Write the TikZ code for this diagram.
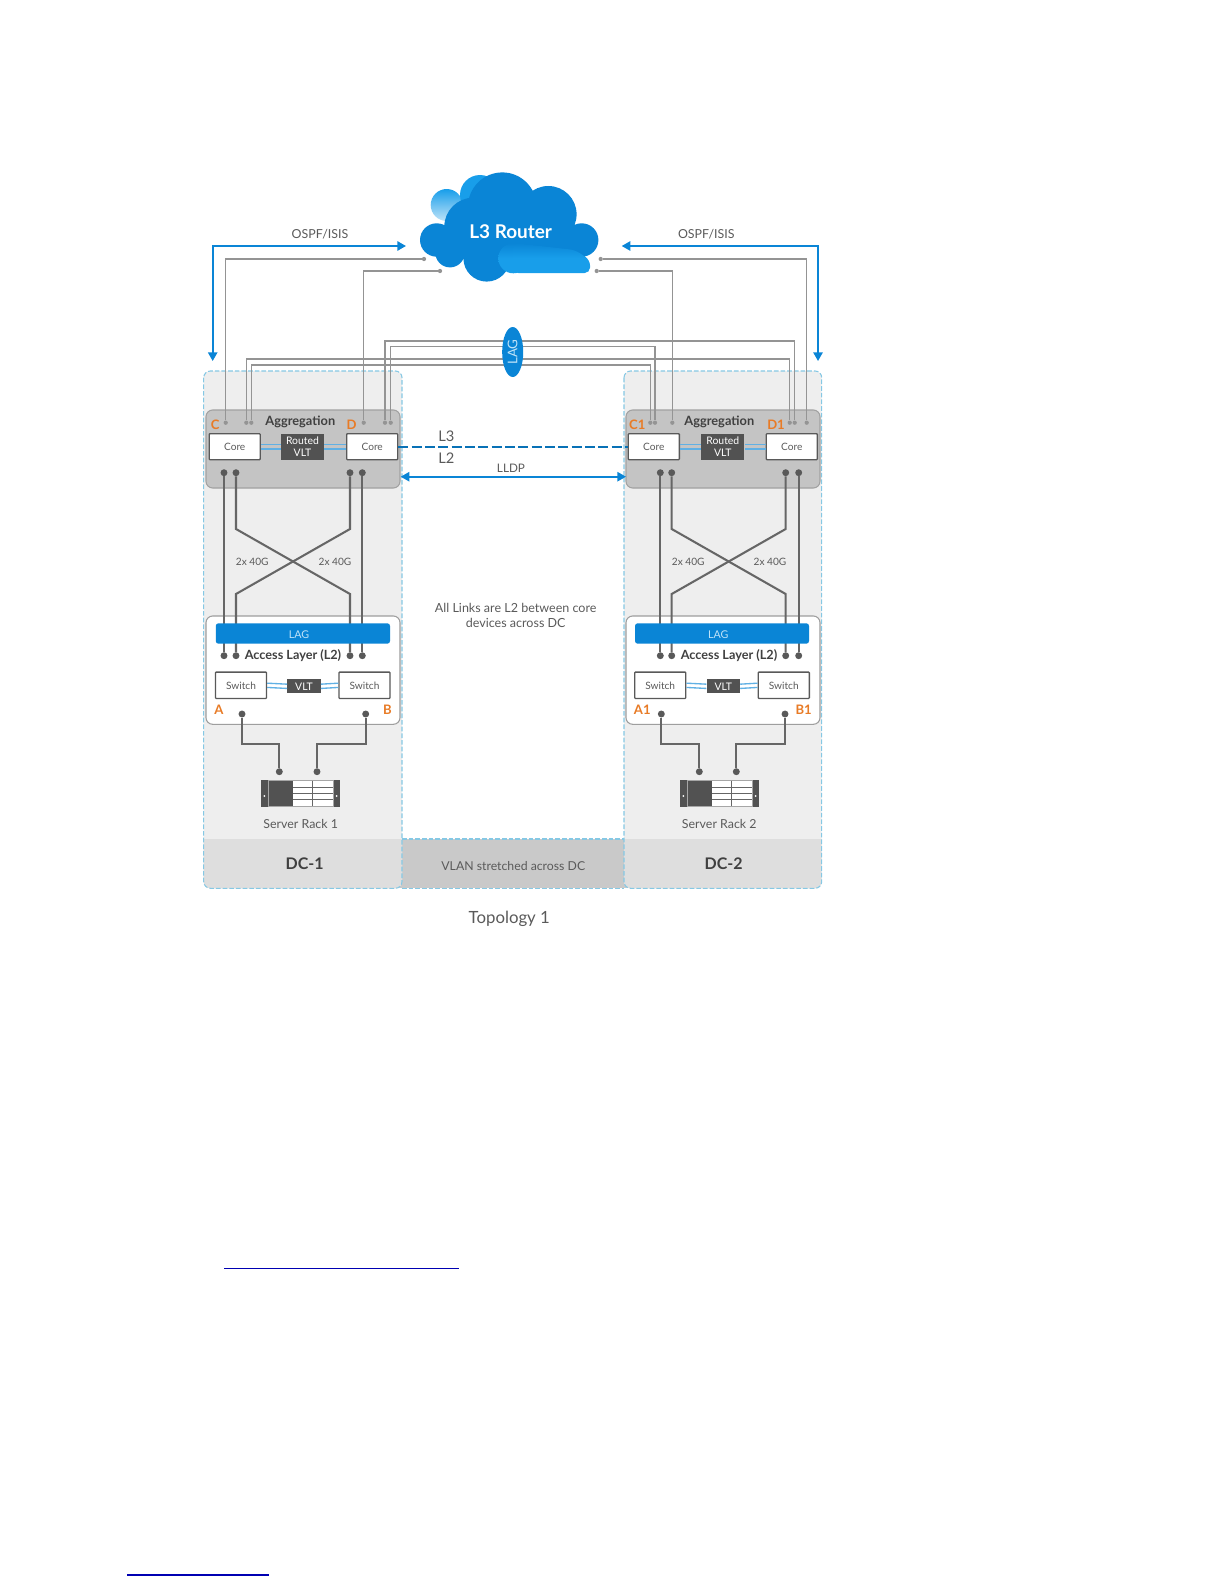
\documentclass[tikz,border=0pt]{standalone}
\usepackage{fontspec}
\setmainfont{Lato}
\usetikzlibrary{arrows.meta,shapes.geometric}
\definecolor{dellblue}{HTML}{0A85D6}
\definecolor{dellsky}{HTML}{189EEA}
\definecolor{dellpale}{HTML}{BFE3F8}
\definecolor{dashblue}{HTML}{86C8E4}
\definecolor{txtgrey}{HTML}{5A5A5A}
\definecolor{dellorange}{HTML}{E87B26}
\tikzset{
  panel/.style      = {fill=black!6.5, rounded corners=5pt},
  panel edge/.style = {draw=dashblue, line width=0.8pt, dash pattern=on 3.5pt off 1.5pt},
  band/.style       = {fill=black!13},
  midband/.style    = {fill=black!21},
  aggbox/.style     = {fill=black!23, draw=black!37, line width=0.8pt, rounded corners=5pt},
  accbox/.style     = {fill=white, draw=black!38, line width=0.8pt, rounded corners=5pt},
  corebox/.style    = {rectangle, draw=black!65, fill=white, line width=1pt, rounded corners=0.6pt,
                       inner sep=0pt, minimum width=38.3pt, minimum height=19.5pt,
                       font=\fontsize{7.6}{8}\selectfont, text=txtgrey, text depth=0pt},
  darkbox/.style    = {rectangle, fill=black!68, inner sep=0pt, text=white, align=center,
                       font=\fontsize{7.8}{8.6}\selectfont},
  lagbar/.style     = {rectangle, fill=dellblue, rounded corners=2pt, inner sep=0pt,
                       minimum height=15.3pt},
  lagoval/.style    = {ellipse, fill=dellblue, inner sep=0pt, minimum width=37.5pt,
                       minimum height=15.8pt, rotate=90, text=dellpale,
                       font=\fontsize{10}{11}\selectfont},
  bigdot/.style     = {circle, fill=black!65, inner sep=0pt, minimum size=5.2pt},
  tinydot/.style    = {circle, fill=black!42, inner sep=0pt, minimum size=3.2pt},
  trunk/.style      = {line width=1.55pt, draw=black!60},
  thinlink/.style   = {line width=0.95pt, draw=black!42},
  vltlink/.style    = {line width=1pt, draw=dellblue!65},
  bluearrow/.style  = {line width=1.3pt, draw=dellblue,
                       {Stealth[length=6.5pt,width=7pt,inset=0pt]}-{Stealth[length=6.5pt,width=7pt,inset=0pt]}},
  greytxt/.style    = {text=txtgrey, font=\fontsize{9.3}{11}\selectfont, inner sep=0pt},
  smalltxt/.style   = {text=txtgrey, font=\fontsize{7.6}{8}\selectfont, inner sep=0pt},
  headtxt/.style    = {text=black!75, font=\bfseries\fontsize{9.6}{10}\selectfont, inner sep=0pt},
  tag/.style        = {text=dellorange, font=\bfseries\fontsize{9.8}{10}\selectfont, inner sep=0pt},
  rackbox/.style    = {rectangle, fill=black!35, inner sep=0pt, minimum width=59.2pt, minimum height=20.5pt},
  rack detail/.pic  = {
    \fill[black!68] (-39.5,-13.5) rectangle (-33,13.5);
    \fill[black!68] (33,-13.5) rectangle (39.5,13.5);
    \fill[white] (-31.5,-12.7) rectangle (32,12.2);
    \fill[black!68] (-31.5,-12.7) rectangle (-8,12.2);
    \draw[black!60,line width=0.5pt] (-8,-6.2) -- (32,-6.2) (-8,-0.2) -- (32,-0.2)
         (-8,5.8) -- (32,5.8) (11.8,-12.7) -- (11.8,12.2);
    \fill[white] (-36.2,2.5) circle (1) (36.2,2.5) circle (1);
  },
}

\begin{document}
\begin{tikzpicture}[x=0.75pt,y=-0.75pt]
  \useasboundingbox (0,0) rectangle (1224,1584);

  % data centre panels and the band along the bottom
  \fill[midband] (395,839) rectangle (630,888.3);
  \fill[panel] (203.7,371) rectangle (402,888.3);
  \fill[panel] (624,371) rectangle (821.7,888.3);
  \fill[band] (203.7,839) [rounded corners=5pt] -- (203.7,888.3) -- (402,888.3) [sharp corners] -- (402,839) -- cycle;
  \fill[band] (624,839) [rounded corners=5pt] -- (624,888.3) -- (821.7,888.3) [sharp corners] -- (821.7,839) -- cycle;
  \draw[panel edge,rounded corners=5pt] (203.7,371) rectangle (402,888.3);
  \draw[panel edge,rounded corners=5pt] (624,371) rectangle (821.7,888.3);
  \draw[panel edge] (402,839) -- (624,839) (402,888.3) -- (624,888.3);

  % aggregation and access blocks
  \draw[aggbox] (206,410) rectangle (400,488);
  \draw[aggbox] (626,410) rectangle (820,488);
  \draw[accbox] (206,616) rectangle (400,724.3);
  \draw[accbox] (626,616) rectangle (820,724.3);

  % the cloud
  \shade[top color=dellsky,bottom color=dellpale] (446.7,205) circle (16);
  \fill[dellsky] (480,195) circle (20);
  \fill[dellblue] (436.7,240) circle (16.7) (450,252.7) circle (14.7) (486.7,258.3) circle (23.3)
       (473.3,226.7) circle (29) (502.3,206.7) circle (34.3) (548.3,214.3) circle (28.3) (581.7,240) circle (16.7);
  \fill[dellblue] (440,225) rectangle (580,258);
  \fill[dellblue] (560,240) rectangle (585,262);
  \shade[top color=dellblue,bottom color=dellsky,middle color=dellsky] (513.3,258.3) circle (15);
  \shade[top color=dellblue,bottom color=dellsky,middle color=dellsky,rounded corners=4pt]
       (513,243) -- (575,250) -- (590,260) -- (590,273) -- (513,273) -- cycle;
  \node[text=white,font=\bfseries\fontsize{14.2}{16}\selectfont,inner sep=0pt] (router) at (510.7,231.7) {L3 Router};

  % dots on top of the aggregation blocks and at the cloud
  \node[tinydot] (portC) at (225.7,422.7) {};
  \node[tinydot] (lagCa) at (246.3,422.7) {};
  \node[tinydot] (lagCb) at (251.3,422.7) {};
  \node[tinydot] (portD) at (363.7,422.7) {};
  \node[tinydot] (lagDa) at (385,422.7) {};
  \node[tinydot] (lagDb) at (390.7,422.7) {};
  \node[tinydot] (lagEa) at (650.3,422.7) {};
  \node[tinydot] (lagEb) at (655,422.7) {};
  \node[tinydot] (portE) at (672.3,422.7) {};
  \node[tinydot] (lagFa) at (789.7,422.7) {};
  \node[tinydot] (lagFb) at (794.7,422.7) {};
  \node[tinydot] (portF) at (806.7,422.7) {};
  \node[tinydot] (cloudC) at (424,259) {};
  \node[tinydot] (cloudD) at (440,271) {};
  \node[tinydot] (cloudF) at (600.7,259) {};
  \node[tinydot] (cloudE) at (596.7,271) {};

  \draw[thinlink] (portC) |- (cloudC);
  \draw[thinlink] (portD) |- (cloudD);
  \draw[thinlink] (portF) |- (cloudF);
  \draw[thinlink] (portE) |- (cloudE);

  % four lines that run through the LAG oval
  \coordinate (laglineA) at (0,341);
  \coordinate (laglineB) at (0,346.7);
  \coordinate (laglineC) at (0,359);
  \coordinate (laglineD) at (0,365);
  \draw[thinlink] (lagDa) -- (lagDa |- laglineA) -| (lagFb);
  \draw[thinlink] (lagDb) -- (lagDb |- laglineB) -| (lagEb);
  \draw[thinlink] (lagCa) -- (lagCa |- laglineC) -| (lagFa);
  \draw[thinlink] (lagCb) -- (lagCb |- laglineD) -| (lagEa);
  \node[lagoval] (lagoval) at (512.7,352) {LAG};

  % blue arrows
  \coordinate (ospfAa) at (212.7,361);
  \coordinate (ospfAb) at (406,246);
  \coordinate (ospfBa) at (621.7,246);
  \coordinate (ospfBb) at (818,361);
  \draw[bluearrow] (ospfAa) |- (ospfAb);
  \draw[bluearrow] (ospfBa) -| (ospfBb);
  \node[greytxt] (ospfA) at (320,234.3) {OSPF/ISIS};
  \node[greytxt] (ospfB) at (706.3,234.3) {OSPF/ISIS};

  % core boxes
  \node[corebox] (coreC) at (234.7,446.7) {Core};
  \node[corebox] (coreD) at (372.2,446.7) {Core};
  \node[corebox] (coreE) at (653.8,446.7) {Core};
  \node[corebox] (coreF) at (791.8,446.7) {Core};
  \node[darkbox,minimum width=32.2pt,minimum height=19.2pt] (rvltA) at (302.5,446.7) {Routed\\VLT};
  \node[darkbox,minimum width=32.2pt,minimum height=19.2pt] (rvltB) at (722.8,446.7) {Routed\\VLT};
  \draw[vltlink] ([yshift=1.6pt]coreC.east) -- ([yshift=1.6pt]rvltA.west) ([yshift=-1.6pt]coreC.east) -- ([yshift=-1.6pt]rvltA.west);
  \draw[vltlink] ([yshift=1.6pt]coreD.west) -- ([yshift=1.6pt]rvltA.east) ([yshift=-1.6pt]coreD.west) -- ([yshift=-1.6pt]rvltA.east);
  \draw[vltlink] ([yshift=1.6pt]coreE.east) -- ([yshift=1.6pt]rvltB.west) ([yshift=-1.6pt]coreE.east) -- ([yshift=-1.6pt]rvltB.west);
  \draw[vltlink] ([yshift=1.6pt]coreF.west) -- ([yshift=1.6pt]rvltB.east) ([yshift=-1.6pt]coreF.west) -- ([yshift=-1.6pt]rvltB.east);
  \node[headtxt] (aggA) at (300.3,422) {Aggregation};
  \node[headtxt] (aggB) at (719.3,422) {Aggregation};
  \node[tag] (tagC) at (215.3,424.3) {C};
  \node[tag] (tagD) at (351.7,424.3) {D};
  \node[tag] (tagE) at (637.3,424.3) {C1};
  \node[tag] (tagF) at (776,424.3) {D1};

  % L3 and L2 between the data centres
  \draw[line width=1.3pt,draw=dellblue!85!black,dash pattern=on 7.5pt off 2.5pt] (coreD) -- (coreE);
  \coordinate (lldpA) at (400.7,476.7);
  \coordinate (lldpB) at (626,476.7);
  \draw[bluearrow] (lldpA) -- (lldpB);
  \node[greytxt,font=\fontsize{11}{12}\selectfont] (lblLthree) at (446.3,436.3) {L3};
  \node[greytxt,font=\fontsize{11}{12}\selectfont] (lblLtwo) at (446.3,458.3) {L2};
  \node[smalltxt,font=\fontsize{8.8}{10}\selectfont] (lldp) at (511,468.7) {LLDP};
  \node[smalltxt,font=\fontsize{9.4}{11.2}\selectfont,align=center] (note) at (515.7,615.3)
       {All Links are L2 between core\\devices across DC};

  % trunks down to the access layer
  \coordinate (xtop) at (0,529);
  \coordinate (xbot) at (0,594);
  \node[bigdot] (upCa) at (224,472.7) {};
  \node[bigdot] (upCb) at (236,472.7) {};
  \node[bigdot] (upDa) at (350,472.7) {};
  \node[bigdot] (upDb) at (362.3,472.7) {};
  \node[bigdot] (lowAa) at (224,655.7) {};
  \node[bigdot] (lowAb) at (236,655.7) {};
  \node[bigdot] (lowBa) at (350,655.7) {};
  \node[bigdot] (lowBb) at (362.3,655.7) {};
  \draw[trunk] (upCa) -- (lowAa);
  \draw[trunk] (upDb) -- (lowBb);
  \draw[trunk] (upCb) -- (upCb |- xtop) -- (lowBa |- xbot) -- (lowBa);
  \draw[trunk] (upDa) -- (upDa |- xtop) -- (lowAb |- xbot) -- (lowAb);

  \node[bigdot] (upEa) at (660.3,472.7) {};
  \node[bigdot] (upEb) at (671.7,472.7) {};
  \node[bigdot] (upFa) at (785.7,472.7) {};
  \node[bigdot] (upFb) at (798.7,472.7) {};
  \node[bigdot] (lowGa) at (660.3,655.7) {};
  \node[bigdot] (lowGb) at (671.7,655.7) {};
  \node[bigdot] (lowHa) at (785.7,655.7) {};
  \node[bigdot] (lowHb) at (798.7,655.7) {};
  \draw[trunk] (upEa) -- (lowGa);
  \draw[trunk] (upFb) -- (lowHb);
  \draw[trunk] (upEb) -- (upEb |- xtop) -- (lowHa |- xbot) -- (lowHa);
  \draw[trunk] (upFa) -- (upFa |- xtop) -- (lowGb |- xbot) -- (lowGb);

  \node[smalltxt] (speedA) at (252.3,562.3) {2x 40G};
  \node[smalltxt] (speedB) at (335,562.3) {2x 40G};
  \node[smalltxt] (speedC) at (688.3,562.3) {2x 40G};
  \node[smalltxt] (speedD) at (770,562.3) {2x 40G};

  % access layer contents
  \node[lagbar,minimum width=130.7pt] (lagbarA) at (302.9,633.5) {};
  \node[lagbar,minimum width=130.5pt] (lagbarB) at (722,633.5) {};
  \node[text=dellpale,font=\fontsize{8}{8}\selectfont,inner sep=0pt] (lagtxtA) at (299,635) {LAG};
  \node[text=dellpale,font=\fontsize{8}{8}\selectfont,inner sep=0pt] (lagtxtB) at (718.3,635) {LAG};
  \node[headtxt,font=\bfseries\fontsize{9.5}{10}\selectfont] (accA) at (293,656) {Access Layer (L2)};
  \node[headtxt,font=\bfseries\fontsize{9.5}{10}\selectfont] (accB) at (729,656) {Access Layer (L2)};
  \node[corebox,minimum height=19.8pt] (swA) at (241,685.3) {Switch};
  \node[corebox,minimum height=19.8pt] (swB) at (364.5,685.3) {Switch};
  \node[corebox,minimum height=19.8pt] (swC) at (660.2,685.3) {Switch};
  \node[corebox,minimum height=19.8pt] (swD) at (783.8,685.3) {Switch};
  \node[darkbox,minimum width=25pt,minimum height=10.5pt] (vltA) at (304,686.3) {VLT};
  \node[darkbox,minimum width=25pt,minimum height=10.5pt] (vltB) at (723.3,686.3) {VLT};
  \draw[vltlink] ([yshift=1.6pt]swA.east) -- ([yshift=1.6pt]vltA.west) ([yshift=-1.6pt]swA.east) -- ([yshift=-1.6pt]vltA.west);
  \draw[vltlink] ([yshift=1.6pt]swB.west) -- ([yshift=1.6pt]vltA.east) ([yshift=-1.6pt]swB.west) -- ([yshift=-1.6pt]vltA.east);
  \draw[vltlink] ([yshift=1.6pt]swC.east) -- ([yshift=1.6pt]vltB.west) ([yshift=-1.6pt]swC.east) -- ([yshift=-1.6pt]vltB.west);
  \draw[vltlink] ([yshift=1.6pt]swD.west) -- ([yshift=1.6pt]vltB.east) ([yshift=-1.6pt]swD.west) -- ([yshift=-1.6pt]vltB.east);
  \node[tag] (tagA) at (219,709.3) {A};
  \node[tag] (tagB) at (387.3,709.3) {B};
  \node[tag] (tagG) at (642.3,709.3) {A1};
  \node[tag] (tagH) at (803.7,709.3) {B1};

  % switches down to the racks
  \coordinate (busline) at (0,744);
  \node[bigdot] (downA) at (242,714) {};
  \node[bigdot] (downB) at (365.7,714) {};
  \node[bigdot] (rackdotA) at (279.3,771.7) {};
  \node[bigdot] (rackdotB) at (317,771.7) {};
  \draw[trunk] (downA) -- (downA |- busline) -| (rackdotA);
  \draw[trunk] (downB) -- (downB |- busline) -| (rackdotB);
  \node[bigdot] (downC) at (661.3,714) {};
  \node[bigdot] (downD) at (785,714) {};
  \node[bigdot] (rackdotC) at (699.3,771.7) {};
  \node[bigdot] (rackdotD) at (736.3,771.7) {};
  \draw[trunk] (downC) -- (downC |- busline) -| (rackdotC);
  \draw[trunk] (downD) -- (downD |- busline) -| (rackdotD);

  \node[rackbox] (rackA) at (300.5,793.5) {};
  \node[rackbox] (rackB) at (719.5,793.5) {};
  \pic at (rackA) {rack detail};
  \pic at (rackB) {rack detail};
  \node[greytxt] (rackAtxt) at (300.7,823.5) {Server Rack 1};
  \node[greytxt] (rackBtxt) at (719.3,823.5) {Server Rack 2};

  % band texts and caption
  \node[headtxt,font=\bfseries\fontsize{12}{13}\selectfont] (dcA) at (304.7,863.8) {DC-1};
  \node[headtxt,font=\bfseries\fontsize{12}{13}\selectfont] (dcB) at (723.7,863.8) {DC-2};
  \node[smalltxt,font=\fontsize{9.2}{10}\selectfont] (vlan) at (513.3,865.7) {VLAN stretched across DC};
  \node[greytxt,font=\fontsize{12.6}{14}\selectfont] (caption) at (509.3,918.5) {Topology 1};

  % the two rules in the page text below
  \draw[line width=0.8pt,draw=blue!70!black] (224,1268.3) -- (458.7,1268.3);
  \draw[line width=0.8pt,draw=blue!70!black] (127,1575) -- (269,1575);
\end{tikzpicture}
\end{document}
